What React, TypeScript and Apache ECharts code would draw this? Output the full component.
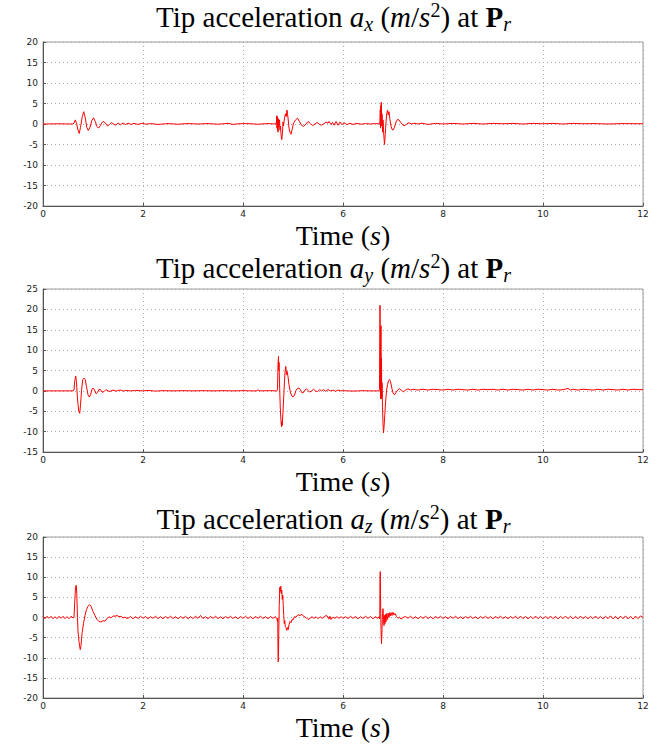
import React, { useEffect, useRef } from 'react';
import * as echarts from 'echarts';

// Time axis ticks (s) and y ranges per panel
const xMin = 0;
const xMax = 12;
const xStep = 2;
const yRanges: [number, number][] = [[-20, 20], [-15, 25], [-20, 20]];
const yStep = 5;
const axisSubs = ['x', 'y', 'z'];

// Tip acceleration a_x [time s, value m/s^2]
const axData: [number, number][] = [
  [0, 0], [0.3, 0.05], [0.6, 0],
  [0.62, 0.2], [0.645, 1.0], [0.67, 0.2], [0.7, -1.5], [0.725, -2.3], [0.75, -0.8], [0.785, 1.8], [0.815, 3.0],
  [0.845, 1.5], [0.875, -0.8], [0.905, -1.6], [0.94, -0.8], [0.975, 0.8], [1.01, 1.5], [1.045, 0.6], [1.08, -0.6],
  [1.11, -1.0], [1.15, -0.3], [1.19, 0.5], [1.22, 0.6], [1.26, 0], [1.29, -0.5], [1.33, -0.1], [1.37, 0.35],
  [1.41, 0], [1.45, -0.3], [1.5, 0.25], [1.55, -0.2], [1.6, 0.25], [1.65, -0.15], [1.7, 0.2], [1.76, -0.1],
  [1.82, 0.15], [1.9, -0.1], [1.98, 0.2], [2.06, -0.05], [2.15, 0.1], [2.3, -0.1], [2.5, 0.1], [2.7, -0.05],
  [2.9, 0.1], [3.1, 0], [3.3, 0.1], [3.5, -0.05], [3.7, 0.15], [3.8, -0.1], [3.9, 0.05], [4.1, 0.1], [4.3, -0.05],
  [4.5, 0.1], [4.65, 0],
  [4.67, 0.5], [4.675, 2.0], [4.68, -1.0], [4.685, 1.8], [4.69, -1.5], [4.695, 1.5], [4.7, -2.0], [4.71, 1.2],
  [4.72, -0.8], [4.73, 1.0], [4.74, -1.5], [4.75, -0.5], [4.76, -2.5], [4.775, -3.8], [4.79, -2.0], [4.8, 0.5],
  [4.81, -0.5], [4.83, 1.5], [4.85, 2.5], [4.865, 1.8], [4.88, 3.4], [4.9, 1.5], [4.92, -1.0], [4.94, -2.0],
  [4.96, -2.5], [4.98, -1.5], [5.01, 0.2], [5.05, 1.0], [5.09, 1.4], [5.13, 0.6], [5.17, -0.3], [5.21, -0.6],
  [5.26, 0], [5.3, 0.6], [5.35, 0.1], [5.39, -0.4], [5.44, 0], [5.48, 0.4], [5.53, -0.1], [5.57, -0.3],
  [5.62, 0.1], [5.66, 0.5], [5.7, 0.2], [5.72, 0.6], [5.76, -0.1], [5.79, 0.4], [5.82, -0.3], [5.86, 0.6],
  [5.9, -0.3], [5.94, 0.5], [5.98, -0.2], [6.02, 0.3], [6.08, -0.15], [6.14, 0.2], [6.2, -0.1], [6.28, 0.15],
  [6.36, -0.05], [6.45, 0.1], [6.55, 0], [6.65, 0.1], [6.72, 0],
  [6.74, 0.5], [6.745, 3.5], [6.75, -1.0], [6.755, 4.5], [6.76, 0.5], [6.765, 5.3], [6.775, -0.5], [6.78, 2.5],
  [6.79, -2.0], [6.8, 1.0], [6.81, -1.5], [6.82, -3.5], [6.83, -5.0], [6.845, -2.5], [6.86, 0.5], [6.875, 2.5],
  [6.89, 3.4], [6.905, 2.2], [6.92, 3.0], [6.94, 1.0], [6.96, -0.5], [6.98, -1.3], [7.0, -1.5], [7.03, -0.8],
  [7.06, 0.5], [7.09, 1.1], [7.12, 1.0], [7.16, 0.3], [7.2, -0.3], [7.24, -0.4], [7.28, 0.1], [7.32, 0.3],
  [7.37, 0], [7.42, 0.2], [7.5, 0], [7.58, 0.2], [7.7, -0.1], [7.85, 0.15], [8.0, 0], [8.2, 0.15], [8.4, 0],
  [8.6, 0.15], [8.8, 0], [9.0, 0.15], [9.2, 0.05], [9.4, 0.15], [9.6, 0], [9.8, 0.15], [10.0, 0.05],
  [10.2, 0.15], [10.4, 0], [10.6, 0.15], [10.8, 0.05], [11.0, 0.1], [11.3, 0], [11.6, 0.1], [12, 0.05],
];

// Tip acceleration a_y
const ayData: [number, number][] = [
  [0, 0], [0.3, 0], [0.6, 0],
  [0.62, 0.2], [0.635, 2.5], [0.655, 3.6], [0.67, 2.0], [0.69, -2.0], [0.715, -5.0], [0.735, -5.5], [0.75, -3.5],
  [0.77, 0], [0.795, 2.8], [0.82, 3.1], [0.845, 2.8], [0.87, 1.0], [0.9, -1.0], [0.925, -1.5], [0.95, -1.0],
  [0.98, 0.4], [1.0, 0.7], [1.03, 0.2], [1.06, -0.7], [1.09, -0.4], [1.12, 0.4], [1.15, 0.3], [1.18, -0.3],
  [1.22, -0.2], [1.26, 0.3], [1.3, 0], [1.34, -0.15], [1.38, 0.1], [1.42, 0.2], [1.46, -0.1], [1.5, 0.1],
  [1.55, 0.2], [1.6, -0.05], [1.65, 0.1], [1.75, 0], [1.85, 0.1], [2.0, 0], [2.1, 0.1], [2.25, -0.05],
  [2.4, 0.05], [2.6, 0], [2.8, 0.05], [3.0, 0], [3.2, 0.05], [3.4, 0], [3.6, 0.05], [3.8, 0], [4.0, 0.05],
  [4.2, 0], [4.28, 0], [4.3, 0.3], [4.32, 0], [4.5, 0.05], [4.68, 0],
  [4.69, 0.3], [4.7, 6.5], [4.71, 8.5], [4.715, 5.0], [4.72, 7.0], [4.73, 2.0], [4.745, -4.0], [4.76, -7.5],
  [4.77, -8.8], [4.775, -7.5], [4.785, -8.5], [4.8, -5.0], [4.82, 0], [4.84, 4.5], [4.855, 6.0], [4.87, 4.0],
  [4.88, 4.8], [4.9, 3.5], [4.92, 1.5], [4.95, -0.5], [4.98, -1.3], [5.0, -1.5], [5.03, -1.0], [5.06, 0.1],
  [5.09, 0.6], [5.12, 0.7], [5.15, 0.2], [5.18, -0.5], [5.21, -0.4], [5.24, 0.2], [5.27, 0.5], [5.3, 0.1],
  [5.33, -0.3], [5.37, 0], [5.41, 0.4], [5.45, 0], [5.49, -0.2], [5.53, 0.3], [5.57, 0], [5.61, 0.3],
  [5.65, -0.1], [5.7, 0.3], [5.75, 0], [5.8, 0.2], [5.85, -0.1], [5.9, 0.2], [5.95, 0], [6.0, 0.05],
  [6.1, 0], [6.2, -0.05], [6.3, 0], [6.4, 0.05], [6.5, 0], [6.6, 0], [6.72, 0],
  [6.73, 0.5], [6.735, 12], [6.74, 21], [6.745, 12], [6.75, -2], [6.755, 10], [6.76, 16], [6.765, -2],
  [6.77, 8], [6.775, -1.5], [6.78, 2], [6.79, -4], [6.8, -8], [6.81, -10.3], [6.82, -9], [6.835, -6],
  [6.85, -3], [6.87, 0], [6.89, 1.5], [6.91, 2.5], [6.93, 2.8], [6.95, 2.3], [6.98, 0.5], [7.0, -0.5],
  [7.03, -1.0], [7.06, -0.4], [7.1, 0.3], [7.13, 0.5], [7.17, 0.1], [7.21, -0.2], [7.25, 0.2], [7.3, 0.5],
  [7.35, 0.2], [7.4, 0.4], [7.5, 0.2], [7.6, 0.4], [7.7, 0.2], [7.8, 0.4], [7.9, 0.3], [8.0, 0.2],
  [8.1, 0.4], [8.2, 0.2], [8.3, 0.4], [8.4, 0.3], [8.5, 0.2], [8.6, 0.4], [8.7, 0.2], [8.8, 0.4],
  [8.9, 0.3], [9.0, 0.4], [9.1, 0.2], [9.2, 0.4], [9.3, 0.2], [9.4, 0.4], [9.5, 0.3], [9.6, 0.2],
  [9.7, 0.4], [9.8, 0.2], [9.9, 0.4], [10.0, 0.3], [10.1, 0.2], [10.2, 0.4], [10.3, 0.2], [10.4, 0.3],
  [10.5, 0.6], [10.55, 0.2], [10.6, 0.4], [10.7, 0.2], [10.8, 0.4], [10.9, 0.3], [11.0, 0.2], [11.1, 0.4],
  [11.2, 0.2], [11.3, 0.4], [11.4, 0.3], [11.5, 0.2], [11.6, 0.4], [11.7, 0.2], [11.8, 0.4], [11.9, 0.3],
  [12, 0.3],
];

// Tip acceleration a_z
const azData: [number, number][] = [
  [0, 0.2], [0.04, -0.3], [0.08, 0.3], [0.12, -0.2], [0.16, 0.3], [0.2, -0.3], [0.24, 0.2], [0.28, -0.3],
  [0.32, 0.3], [0.36, -0.2], [0.4, 0.3], [0.44, -0.3], [0.48, 0.2], [0.52, -0.3], [0.56, 0.3], [0.6, -0.1],
  [0.62, 0], [0.635, 4], [0.65, 7.5], [0.665, 8.0], [0.675, 6], [0.69, 0], [0.7, -3.5], [0.72, -6],
  [0.745, -8], [0.76, -7], [0.78, -4], [0.81, -1.5], [0.84, 0.5], [0.87, 2], [0.9, 2.8], [0.93, 3.2],
  [0.96, 2.8], [1.0, 1.5], [1.04, 0.5], [1.08, -0.5], [1.12, -1.0], [1.16, -1.1], [1.2, -0.8], [1.24, -0.9],
  [1.28, -0.3], [1.32, 0.2], [1.36, -0.1], [1.4, 0.4], [1.44, 0.3], [1.48, 0.5], [1.52, 0.2], [1.56, 0.3],
  [1.6, -0.1], [1.64, 0.1], [1.68, -0.2],
  [1.7, -0.2], [1.75, 0.25], [1.8, -0.3], [1.85, 0.2], [1.9, -0.25], [1.95, 0.3], [2.0, -0.2], [2.05, 0.25],
  [2.1, -0.3], [2.15, 0.2], [2.2, -0.2], [2.25, 0.3], [2.3, -0.25], [2.35, 0.2], [2.4, -0.3], [2.45, 0.25],
  [2.5, -0.2], [2.55, 0.3], [2.6, -0.25], [2.65, 0.2], [2.7, -0.3], [2.75, 0.25], [2.8, -0.2], [2.85, 0.3],
  [2.9, -0.3], [2.95, 0.2], [3.0, -0.25], [3.05, 0.3], [3.1, -0.2], [3.15, 0.5], [3.2, -0.25], [3.25, 0.2],
  [3.3, -0.3], [3.35, 0.25], [3.4, -0.2], [3.45, 0.3], [3.5, -0.25], [3.55, 0.2], [3.6, -0.3], [3.65, 0.25],
  [3.7, -0.2], [3.75, 0.3], [3.8, -0.25], [3.85, 0.2], [3.9, -0.3], [3.95, 0.25], [4.0, -0.2], [4.05, 0.3],
  [4.1, -0.25], [4.15, 0.2], [4.2, -0.3], [4.25, 0.25], [4.3, -0.2], [4.35, 0.3], [4.4, -0.25], [4.45, 0.2],
  [4.5, -0.3], [4.55, 0.25], [4.6, -0.2], [4.65, 0.2],
  [4.68, -0.3], [4.69, -1.0], [4.695, -0.2], [4.7, -8.5], [4.705, -11], [4.71, -9], [4.715, -4], [4.725, 3],
  [4.735, 7.5], [4.745, 6.5], [4.755, 7.8], [4.765, 6], [4.775, 6.8], [4.785, 4.5], [4.795, 5.5], [4.805, 3],
  [4.815, 0.5], [4.825, -1.5], [4.835, -0.8], [4.845, -2.2], [4.86, -2.5], [4.875, -3.2], [4.89, -2.5],
  [4.905, -3.0], [4.92, -1.8], [4.94, -1.0], [4.96, -1.3], [4.98, -0.5], [5.0, -0.6], [5.03, 0.2], [5.06, 0.1],
  [5.1, 0.7], [5.14, 0.5], [5.18, 0.8], [5.22, 0.2], [5.26, 0], [5.3, -0.5], [5.34, -0.2], [5.38, 0.2],
  [5.42, -0.2], [5.46, 0.2], [5.5, -0.3], [5.54, 0.2], [5.58, -0.2], [5.62, 0.1], [5.66, 0.5], [5.7, 0.2],
  [5.72, -0.4], [5.74, 0.3], [5.76, -0.5], [5.8, 0.1], [5.84, -0.2], [5.88, 0.2], [5.92, -0.2], [5.96, 0.2],
  [6.0, -0.2], [6.05, 0.2], [6.1, -0.25], [6.15, 0.3], [6.2, -0.2], [6.25, 0.25], [6.3, -0.3], [6.35, 0.2],
  [6.4, -0.25], [6.45, 0.3], [6.5, -0.2], [6.55, 0.25], [6.6, -0.3], [6.65, 0.2], [6.7, -0.2],
  [6.72, 0.2], [6.735, -0.3], [6.74, 9.5], [6.745, 11.4], [6.75, 6], [6.755, 1], [6.76, -3], [6.77, -6.5],
  [6.78, -3], [6.79, 1], [6.8, 2.2], [6.81, -0.5], [6.82, -2.0], [6.83, 0.5], [6.84, -1.5], [6.85, 0.8],
  [6.86, -1], [6.875, 1.0], [6.89, -0.5], [6.905, 1.1], [6.92, 0], [6.935, 1.2], [6.95, 0.4], [6.965, 1.2],
  [6.98, 0.5], [7.0, 1.3], [7.02, 0.6], [7.04, 1.0], [7.07, 0.2], [7.1, -0.2], [7.13, 0.1], [7.16, -0.4],
  [7.2, 0], [7.25, 0.25], [7.3, -0.2], [7.35, 0.3], [7.4, -0.25], [7.45, 0.2], [7.5, -0.3], [7.55, 0.25],
  [7.6, -0.2], [7.65, 0.3], [7.7, -0.25], [7.75, 0.2], [7.8, -0.3], [7.85, 0.25], [7.9, -0.2], [7.95, 0.3],
  [8.0, -0.25], [8.05, 0.2], [8.1, -0.3], [8.15, 0.25], [8.2, -0.2], [8.25, 0.3], [8.3, -0.25], [8.35, 0.2],
  [8.4, -0.3], [8.45, 0.25], [8.5, -0.2], [8.55, 0.3], [8.6, -0.25], [8.65, 0.2], [8.7, -0.3], [8.75, 0.25],
  [8.8, -0.2], [8.85, 0.3], [8.9, -0.25], [8.95, 0.2], [9.0, -0.3], [9.05, 0.25], [9.1, -0.2], [9.15, 0.3],
  [9.2, -0.25], [9.25, 0.2], [9.3, -0.3], [9.35, 0.25], [9.4, -0.2], [9.45, 0.3], [9.5, -0.3], [9.55, 0.35],
  [9.6, -0.3], [9.65, 0.3], [9.7, -0.35], [9.75, 0.3], [9.8, -0.3], [9.85, 0.35], [9.9, -0.3], [9.95, 0.3],
  [10.0, -0.35], [10.05, 0.3], [10.1, -0.3], [10.15, 0.35], [10.2, -0.3], [10.25, 0.3], [10.3, -0.35],
  [10.35, 0.3], [10.4, -0.3], [10.45, 0.35], [10.5, -0.3], [10.55, 0.3], [10.6, -0.35], [10.65, 0.3],
  [10.7, -0.3], [10.75, 0.35], [10.8, -0.3], [10.85, 0.3], [10.9, -0.35], [10.95, 0.3], [11.0, -0.3],
  [11.05, 0.35], [11.1, -0.3], [11.15, 0.3], [11.2, -0.35], [11.25, 0.3], [11.3, -0.3], [11.35, 0.4],
  [11.4, -0.35], [11.45, 0.3], [11.5, -0.4], [11.55, 0.35], [11.6, -0.3], [11.65, 0.4], [11.7, -0.35],
  [11.75, 0.3], [11.8, -0.4], [11.85, 0.35], [11.9, -0.3], [11.95, 0.4], [12, 0],
];

const seriesData = [axData, ayData, azData];

const W = 667;
const H = 744;
const gridTops = [42, 289, 537];
const gridHeights = [164, 163, 161];
const titleTops = [0, 251, 502];
const gridLeft = 43;
const gridRight = 24;

const serif = '"Liberation Serif", "DejaVu Serif", serif';
const base = { fontFamily: serif, fontSize: 29, lineHeight: 34, color: '#000', fontWeight: 'normal' };
const titleRich = {
  n: { ...base },
  i: { ...base, fontStyle: 'italic' },
  b: { ...base, fontWeight: 'bold' },
  sub: { ...base, fontSize: 20, lineHeight: 17, fontStyle: 'italic', verticalAlign: 'bottom' },
  sup: { ...base, fontSize: 20, lineHeight: 17, verticalAlign: 'top' },
};
const timeBase = { fontFamily: serif, fontSize: 28, lineHeight: 30, color: '#000', fontWeight: 'normal' };
const timeRich = {
  n: { ...timeBase },
  i: { ...timeBase, fontStyle: 'italic' },
};

export default function App() {
  const ref = useRef<HTMLDivElement>(null);
  useEffect(() => {
    if (!ref.current) return;
    const chart = echarts.init(ref.current, undefined, { renderer: 'svg' });
    const axisColor = '#555';
    const tickFont = { fontFamily: '"DejaVu Sans", sans-serif', fontSize: 9, color: '#222' };
    const option: any = {
      animation: false,
      backgroundColor: '#fff',
      title: axisSubs.map((s, k) => ({
        text: `{n|Tip acceleration }{i|a}{sub|${s}}{n| (}{i|m}{n|/}{i|s}{sup|2}{n|) at }{b|P}{sub|r}`,
        left: 'center',
        top: titleTops[k],
        padding: 0,
        textStyle: { fontWeight: 'normal', fontFamily: serif, fontSize: 29, rich: titleRich },
      })),
      grid: gridTops.map((t, k) => ({
        left: gridLeft,
        right: gridRight,
        top: t,
        height: gridHeights[k],
        show: true,
        borderColor: '#999',
        borderWidth: 1,
        backgroundColor: '#fff',
      })),
      xAxis: gridTops.map((_, k) => ({
        type: 'value',
        gridIndex: k,
        min: xMin,
        max: xMax,
        interval: xStep,
        name: '{n|Time (}{i|s}{n|)}',
        nameLocation: 'middle',
        nameGap: 14,
        nameTextStyle: { fontWeight: 'normal', fontFamily: serif, fontSize: 28, rich: timeRich },
        axisLine: { show: true, onZero: false, lineStyle: { color: axisColor, width: 1 } },
        axisTick: { show: true, inside: true, length: 3, lineStyle: { color: axisColor } },
        axisLabel: { ...tickFont, margin: 3 },
        splitLine: { show: true, lineStyle: { color: '#aaa', type: [1, 3], width: 1 } },
      })),
      yAxis: yRanges.map((r, k) => ({
        type: 'value',
        gridIndex: k,
        min: r[0],
        max: r[1],
        interval: yStep,
        axisLine: { show: true, onZero: false, lineStyle: { color: axisColor, width: 1 } },
        axisTick: { show: true, inside: true, length: 3, lineStyle: { color: axisColor } },
        axisLabel: { ...tickFont, margin: 5 },
        splitLine: { show: true, lineStyle: { color: '#aaa', type: [1, 3], width: 1 } },
      })),
      series: seriesData.map((d, k) => ({
        type: 'line',
        xAxisIndex: k,
        yAxisIndex: k,
        data: d,
        showSymbol: false,
        symbol: 'none',
        lineStyle: { color: '#ff0000', width: 1 },
        itemStyle: { color: '#ff0000' },
        z: 3,
      })),
    };
    chart.setOption(option);
    return () => chart.dispose();
  }, []);
  return (
    <div
      ref={ref}
      style={{ position: 'fixed', left: 0, top: 0, width: W, height: H, background: '#fff' }}
    />
  );
}
